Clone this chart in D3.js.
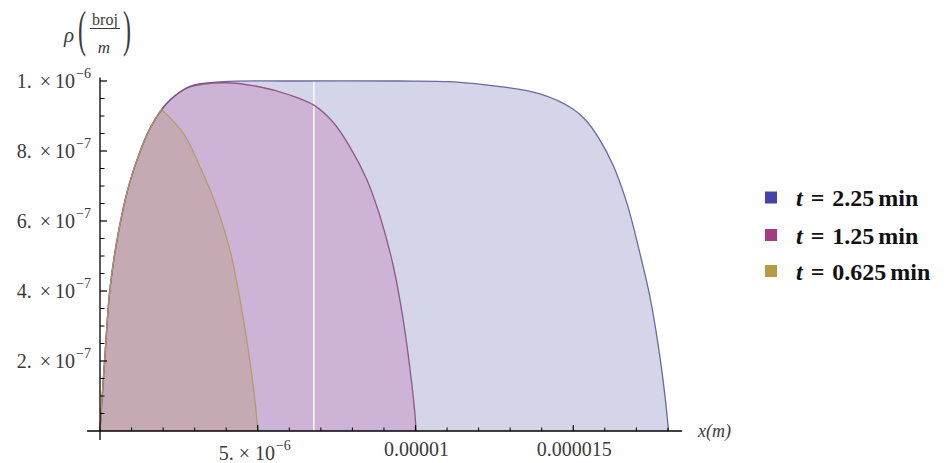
<!DOCTYPE html>
<html>
<head>
<meta charset="utf-8">
<script src="https://cdn.jsdelivr.net/npm/d3@7/dist/d3.min.js"></script>
<style>
  html, body { margin: 0; padding: 0; background: #fff; }
  svg { display: block; }
  text { font-family: "Liberation Serif", "DejaVu Serif", serif; }
</style>
</head>
<body>
<svg id="chart" width="947" height="463"></svg>
<script>
// ---------------- data ----------------
const seriesNames = ["t = 2.25 min", "t = 1.25 min", "t = 0.625 min"];
const legendTimes = ["2.25", "1.25", "0.625"];

// t = 2.25 min
const blueX = [0, 0.16e-6, 0.32e-6, 0.58e-6, 0.90e-6, 1.32e-6, 1.64e-6, 1.95e-6, 2.22e-6, 2.85e-6, 3.90e-6, 6.0e-6, 9.5e-6, 11.1e-6, 12.68e-6, 13.95e-6, 14.99e-6, 15.40e-6, 15.80e-6, 16.26e-6, 16.70e-6, 17.11e-6, 17.43e-6, 17.70e-6, 17.91e-6, 18.02e-6];
const blueY = [0, 0.22e-6, 0.41e-6, 0.566e-6, 0.697e-6, 0.811e-6, 0.874e-6, 0.919e-6, 0.946e-6, 0.985e-6, 0.998e-6, 1.0e-6, 1.0e-6, 0.998e-6, 0.984e-6, 0.963e-6, 0.920e-6, 0.888e-6, 0.838e-6, 0.760e-6, 0.651e-6, 0.509e-6, 0.384e-6, 0.241e-6, 0.098e-6, 0];

// t = 1.25 min
const pinkX = [0, 0.16e-6, 0.32e-6, 0.58e-6, 0.90e-6, 1.32e-6, 1.64e-6, 1.95e-6, 2.22e-6, 2.85e-6, 3.90e-6, 4.97e-6, 6.02e-6, 6.78e-6, 7.39e-6, 7.92e-6, 8.45e-6, 8.87e-6, 9.30e-6, 9.61e-6, 9.83e-6, 9.98e-6, 10.02e-6];
const pinkY = [0, 0.22e-6, 0.41e-6, 0.566e-6, 0.697e-6, 0.811e-6, 0.874e-6, 0.917e-6, 0.946e-6, 0.983e-6, 0.995e-6, 0.985e-6, 0.960e-6, 0.931e-6, 0.882e-6, 0.812e-6, 0.720e-6, 0.615e-6, 0.470e-6, 0.318e-6, 0.174e-6, 0.051e-6, 0];

// t = 0.625 min
const goldX = [0, 0.16e-6, 0.32e-6, 0.58e-6, 0.90e-6, 1.32e-6, 1.64e-6, 1.95e-6, 2.64e-6, 3.17e-6, 3.70e-6, 4.12e-6, 4.44e-6, 4.70e-6, 4.91e-6, 5.0e-6];
const goldY = [0, 0.22e-6, 0.41e-6, 0.566e-6, 0.697e-6, 0.811e-6, 0.874e-6, 0.919e-6, 0.851e-6, 0.755e-6, 0.640e-6, 0.517e-6, 0.374e-6, 0.231e-6, 0.089e-6, 0];

// axis ticks
const xMajorTicks = [5e-6, 1e-5, 1.5e-5];
const xMajorLabels = [["5. \u00D7 10", "\u22126"], ["0.00001", ""], ["0.000015", ""]];
const xMinorTicks = [1e-6, 2e-6, 3e-6, 4e-6, 6e-6, 7e-6, 8e-6, 9e-6, 11e-6, 12e-6, 13e-6, 14e-6, 16e-6, 17e-6, 18e-6];
const yMajorTicks = [2e-7, 4e-7, 6e-7, 8e-7, 1e-6];
const yMajorLabels = [["2.", "\u22127"], ["4.", "\u22127"], ["6.", "\u22127"], ["8.", "\u22127"], ["1.", "\u22126"]];
const yMinorTicks = [0.5e-7, 1e-7, 1.5e-7, 2.5e-7, 3e-7, 3.5e-7, 4.5e-7, 5e-7, 5.5e-7, 6.5e-7, 7e-7, 7.5e-7, 8.5e-7, 9e-7, 9.5e-7];
const xAxisExtent = [-0.41e-6, 18.45e-6];
const yAxisExtent = [-0.026e-6, 1.01e-6];
const seamX = 6.78e-6;   // thin white seam in the fill

// ---------------- drawing ----------------
const svg = d3.select("#chart");
const x = d3.scaleLinear().domain([0, 1e-5]).range([100, 415.5]);
const y = d3.scaleLinear().domain([0, 1e-6]).range([431, 81]);

const fills = ["#d5d5ea", "#cdb3d5", "#c5a9b3"];
const strokes = ["#5b5b98", "#8c4a7c", "#b39a62"];
const swatches = ["#4343aa", "#a23e80", "#b79a45"];

const series = [
  blueX.map((v, i) => [v, blueY[i]]),
  pinkX.map((v, i) => [v, pinkY[i]]),
  goldX.map((v, i) => [v, goldY[i]])
];

const lineGen = d3.line().x(d => x(d[0])).y(d => y(d[1])).curve(d3.curveCatmullRom.alpha(0.5));

function curvePath(data, cusp) {
  if (!cusp) return lineGen(data);
  const pi = d3.maxIndex(data, d => d[1]);
  const a = lineGen(data.slice(0, pi + 1));
  const b = lineGen(data.slice(pi)).replace(/^M[^CLZ]*/, "");
  return a + b;
}

const plot = svg.append("g");
series.forEach((data, i) => {
  const p = curvePath(data, i === 2);
  const first = data[0], last = data[data.length - 1];
  plot.append("path")
    .attr("d", p + `L${x(last[0])},${y(0)}L${x(first[0])},${y(0)}Z`)
    .attr("fill", fills[i]).attr("stroke", "none");
});
plot.append("line")
  .attr("x1", x(seamX)).attr("x2", x(seamX))
  .attr("y1", y(0)).attr("y2", y(1e-6))
  .attr("stroke", "#ffffff").attr("stroke-width", 1.4);
series.forEach((data, i) => {
  plot.append("path")
    .attr("d", curvePath(data, i === 2))
    .attr("fill", "none").attr("stroke", strokes[i]).attr("stroke-width", 1.3)
    .attr("stroke-opacity", 0.9);
});

// axes
const ax = svg.append("g").attr("stroke", "#000");
ax.append("line").attr("x1", x(xAxisExtent[0])).attr("x2", x(xAxisExtent[1]))
  .attr("y1", y(0)).attr("y2", y(0)).attr("stroke-width", 1.3);
ax.append("line").attr("x1", x(0)).attr("x2", x(0))
  .attr("y1", y(yAxisExtent[0])).attr("y2", y(yAxisExtent[1])).attr("stroke-width", 1.3);

xMajorTicks.forEach(t => ax.append("line").attr("x1", x(t)).attr("x2", x(t)).attr("y1", y(0)).attr("y2", y(0) - 6).attr("stroke-width", 1.2));
xMinorTicks.forEach(t => ax.append("line").attr("x1", x(t)).attr("x2", x(t)).attr("y1", y(0)).attr("y2", y(0) - 3.5).attr("stroke-width", 1));
yMajorTicks.forEach(t => ax.append("line").attr("x1", x(0)).attr("x2", x(0) + 7).attr("y1", y(t)).attr("y2", y(t)).attr("stroke-width", 1.2));
yMinorTicks.forEach(t => ax.append("line").attr("x1", x(0)).attr("x2", x(0) + 4.5).attr("y1", y(t)).attr("y2", y(t)).attr("stroke-width", 1));

// tick labels
const labColor = "#3a3a3a";
yMajorTicks.forEach((t, i) => {
  const tx = svg.append("text").attr("x", 91).attr("y", y(t) + 6.5)
    .attr("text-anchor", "end").attr("font-size", 20).attr("fill", labColor);
  tx.append("tspan").text(yMajorLabels[i][0]);
  tx.append("tspan").attr("dx", 8).text("\u00D7");
  tx.append("tspan").attr("dx", 4).text("10");
  tx.append("tspan").attr("dx", 1).attr("dy", -10).attr("font-size", 14).text(yMajorLabels[i][1]);
});
xMajorTicks.forEach((t, i) => {
  const sup = xMajorLabels[i][1];
  const tx = svg.append("text").attr("x", x(t) - (sup ? 3 : -1)).attr("y", sup ? 460 : 456)
    .attr("text-anchor", "middle").attr("font-size", 20).attr("fill", labColor);
  tx.append("tspan").text(xMajorLabels[i][0]);
  if (sup) tx.append("tspan").attr("dx", 1).attr("dy", -10).attr("font-size", 14).text(sup);
});

// axis labels
svg.append("text").attr("x", 698).attr("y", 437).attr("font-size", 18)
  .attr("font-style", "italic").attr("fill", labColor).text("x(m)");

const yl = svg.append("g").attr("fill", labColor);
yl.append("text").attr("x", 64).attr("y", 42).attr("font-size", 21).attr("font-style", "italic").text("\u03C1");
yl.append("text").attr("font-size", 24)
  .attr("transform", "translate(78,45.5) scale(1,2.15)").text("(");
yl.append("text").attr("font-size", 24)
  .attr("transform", "translate(123,45.5) scale(1,2.15)").text(")");
yl.append("text").attr("x", 105).attr("y", 25).attr("text-anchor", "middle").attr("font-size", 16).attr("font-family", "Liberation Sans, sans-serif").text("broj");
yl.append("line").attr("x1", 90).attr("x2", 120).attr("y1", 28.5).attr("y2", 28.5).attr("stroke", labColor).attr("stroke-width", 1);
yl.append("text").attr("x", 104).attr("y", 53).attr("text-anchor", "middle").attr("font-size", 17).attr("font-style", "italic").text("m");

// legend
const lg = svg.append("g");
legendTimes.forEach((tm, i) => {
  const cy = [197.5, 235, 271][i];
  lg.append("rect").attr("x", 765).attr("y", cy - 6).attr("width", 12).attr("height", 12)
    .attr("fill", swatches[i]);
  const tx = lg.append("text").attr("x", 796).attr("y", cy + 8.5).attr("font-size", 24)
    .attr("font-weight", "bold").attr("fill", "#111");
  tx.append("tspan").attr("font-style", "italic").text("t");
  tx.append("tspan").attr("dx", 8).text("=");
  tx.append("tspan").attr("dx", 8).text(tm);
  tx.append("tspan").attr("dx", 4).text("min");
});
</script>
</body>
</html>
